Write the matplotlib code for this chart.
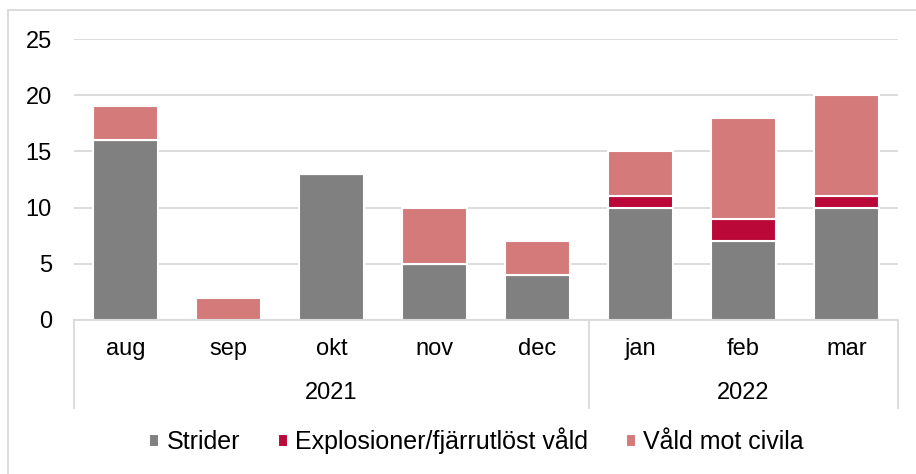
import numpy as np
import matplotlib.pyplot as plt
from matplotlib.patches import Rectangle
from matplotlib.transforms import blended_transform_factory

plt.rcParams['font.family'] = ['Liberation Sans', 'DejaVu Sans']

manader = ["aug", "sep", "okt", "nov", "dec", "jan", "feb", "mar"]
ar = ["2021", "2022"]
ar_center = [2, 6]
strider = [16, 0, 13, 5, 4, 10, 7, 10]
explosioner = [0, 0, 0, 0, 0, 1, 2, 1]
vald_civila = [3, 2, 0, 5, 3, 4, 9, 9]

fs = 17

fig = plt.figure(figsize=(9.16, 4.74), dpi=100)
ax = fig.add_axes([74/916, 1-320/474, (898-74)/916, (320-39)/474])

x = np.arange(len(manader))
s = np.array(strider)
e = np.array(explosioner)
v = np.array(vald_civila)
w = 0.64
kw = dict(width=w, edgecolor="white", linewidth=1.5)
ax.bar(x, s, color="#808080", label="Strider", **kw)
ax.bar(x, e, bottom=s, color="#BA0838", label="Explosioner/fjärrutlöst våld", **kw)
ax.bar(x, v, bottom=s+e, color="#D47A7A", label="Våld mot civila", **kw)

ax.set_xlim(-0.5, 7.5)
ax.set_ylim(0, 25)
ax.set_yticks(range(0, 26, 5))
ax.yaxis.grid(True, color="#D9D9D9", linewidth=1.3)
ax.set_axisbelow(True)
for sp in ["top", "right", "left"]:
    ax.spines[sp].set_visible(False)
ax.spines["bottom"].set_color("#D9D9D9")
ax.spines["bottom"].set_linewidth(1.3)
ax.tick_params(axis="y", length=0, labelsize=fs, pad=16)
ax.tick_params(axis="x", length=0)
ax.set_xticks([])

trans = blended_transform_factory(ax.transData, ax.transAxes)
for i, m in enumerate(manader):
    ax.text(i, -0.103, m, transform=trans, ha="center", va="center", fontsize=fs)
for a, c in zip(ar, ar_center):
    ax.text(c, -0.26, a, transform=trans, ha="center", va="center", fontsize=fs)
for xs in [-0.5, 4.5, 7.5]:
    ax.plot([xs, xs], [0, -0.313], transform=trans, color="#D9D9D9",
            linewidth=1.3, clip_on=False)

fig.legend(loc="center", bbox_to_anchor=(0.52, 1-441/474), ncol=3, frameon=False,
           fontsize=18, handlelength=0.4, handleheight=0.4, handletextpad=0.3,
           columnspacing=1.5)

fig.patches.append(Rectangle((8/916, -0.1), 1.0, 1-10/474+0.1, transform=fig.transFigure,
                             fill=False, edgecolor="#D9D9D9", linewidth=1.3))

fig.savefig("out.png", dpi=100)
